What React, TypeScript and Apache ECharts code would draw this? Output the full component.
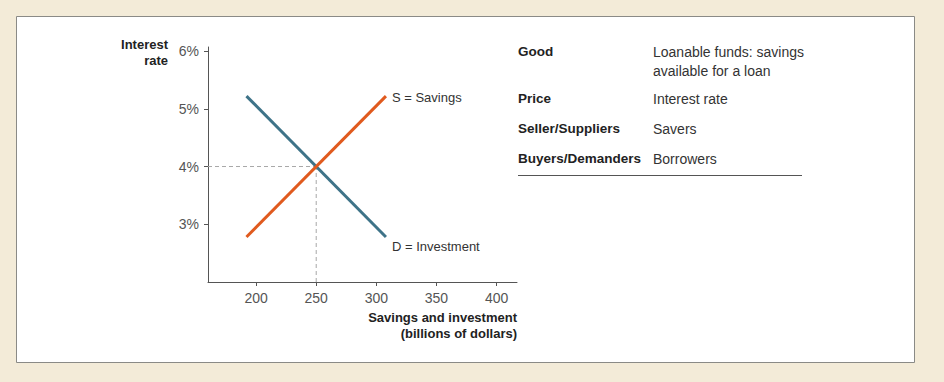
import React, { useEffect, useRef } from "react";
import * as echarts from "echarts";

const xTicks = [200, 250, 300, 350, 400];
const yTicks = [3, 4, 5, 6];
const savings: [number, number][] = [[192, 2.78], [308, 5.22]];
const investment: [number, number][] = [[192, 5.22], [308, 2.78]];
const equilibrium: [number, number] = [250, 4];
const tableRows: [string, string][] = [
  ["Good", "Loanable funds: savings\navailable for a loan"],
  ["Price", "Interest rate"],
  ["Seller/Suppliers", "Savers"],
  ["Buyers/Demanders", "Borrowers"],
];
const tableRowY = [51, 98, 128, 158];

const FONT = "Liberation Sans, Arial, sans-serif";

export default function App() {
  const ref = useRef<HTMLDivElement>(null);
  useEffect(() => {
    if (!ref.current) return;
    const chart = echarts.init(ref.current, undefined, { renderer: "svg" });
    const xMin = 160, xMax = 417, yMin = 2, yMax = 6.07;
    const graphics: any[] = [
      {
        type: "rect", z: -10, silent: true,
        shape: { x: 16.5, y: 16.5, width: 898, height: 346 },
        style: { fill: "#ffffff", stroke: "#8a8a86", lineWidth: 1 },
      },
      {
        type: "text", x: 168, y: 36,
        style: { text: "Interest\nrate", align: "right", verticalAlign: "top", font: `bold 13px ${FONT}`, fill: "#222", lineHeight: 16 },
      },
      {
        type: "text", x: 517, y: 309,
        style: { text: "Savings and investment\n(billions of dollars)", align: "right", verticalAlign: "top", font: `bold 13px ${FONT}`, fill: "#222", lineHeight: 16 },
      },
      {
        type: "line", shape: { x1: 518, y1: 175.5, x2: 802, y2: 175.5 },
        style: { stroke: "#555", lineWidth: 1 },
      },
    ];
    tableRows.forEach(([k, v], i) => {
      graphics.push({
        type: "text", x: 518, y: tableRowY[i],
        style: { text: k, align: "left", verticalAlign: "middle", font: `bold 13.5px ${FONT}`, fill: "#222" },
      });
      graphics.push({
        type: "text", x: 653, y: tableRowY[i] - 9,
        style: { text: v, align: "left", verticalAlign: "top", font: `14px ${FONT}`, fill: "#333", lineHeight: 19 },
      });
    });
    chart.setOption({
      animation: false,
      backgroundColor: "#f3ebd8",
      grid: { left: 208, right: 944 - 517, top: 47, bottom: 382 - 282 },
      xAxis: {
        type: "value", min: xMin, max: xMax,
        axisLine: { show: true, lineStyle: { color: "#555", width: 1 } },
        axisTick: { show: true, customValues: xTicks, length: 4, lineStyle: { color: "#555" } },
        axisLabel: { customValues: xTicks, color: "#555", fontSize: 14, fontFamily: FONT, margin: 9 },
        splitLine: { show: false },
      },
      yAxis: {
        type: "value", min: yMin, max: yMax,
        axisLine: { show: true, lineStyle: { color: "#555", width: 1 } },
        axisTick: { show: true, customValues: yTicks, length: 4, lineStyle: { color: "#555" } },
        axisLabel: { customValues: yTicks, color: "#555", fontSize: 14, fontFamily: FONT, margin: 9, formatter: (v: number) => `${v}%` },
        splitLine: { show: false },
      },
      graphic: graphics,
      series: [
        {
          type: "line", data: [[xMin, equilibrium[1]], equilibrium], symbol: "none", silent: true,
          lineStyle: { color: "#a8a8a8", width: 1, type: [4, 3] },
        },
        {
          type: "line", data: [[equilibrium[0], yMin], equilibrium], symbol: "none", silent: true,
          lineStyle: { color: "#a8a8a8", width: 1, type: [4, 3] },
        },
        {
          type: "line", data: investment, symbol: "none",
          lineStyle: { color: "#3e7388", width: 3 },
          endLabel: { show: true, formatter: "D = Investment", color: "#333", fontSize: 13, fontFamily: FONT, offset: [-2, 10] },
        },
        {
          type: "line", data: savings, symbol: "none",
          lineStyle: { color: "#e05a1e", width: 3 },
          endLabel: { show: true, formatter: "S = Savings", color: "#333", fontSize: 13, fontFamily: FONT, offset: [-2, 1] },
        },
      ],
    });
    return () => chart.dispose();
  }, []);
  return <div ref={ref} style={{ position: "absolute", left: 0, top: 0, width: 944, height: 382 }} />;
}
